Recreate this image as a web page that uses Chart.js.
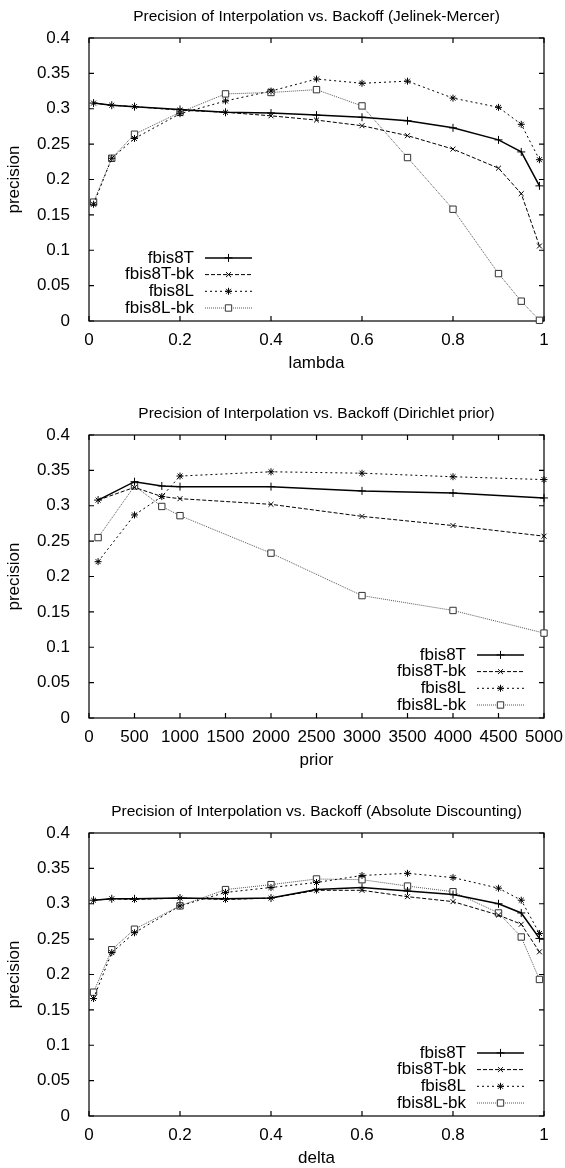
<!DOCTYPE html>
<html>
<head>
<meta charset="utf-8">
<script src="https://cdn.jsdelivr.net/npm/chart.js@4.4.1/dist/chart.umd.min.js"></script>
<style>
  html, body { margin: 0; padding: 0; background: #fff; overflow: hidden; }
  #wrap { position: relative; width: 565px; height: 1168px; }
  canvas { position: absolute; left: 0; }
</style>
</head>
<body>
<div id="wrap">
  <canvas id="chart1" width="565" height="375" style="top:0px"></canvas>
  <canvas id="chart2" width="565" height="375" style="top:397px"></canvas>
  <canvas id="chart3" width="565" height="375" style="top:795px"></canvas>
</div>
<script>
// series names
const seriesNames = ['fbis8T', 'fbis8T-bk', 'fbis8L', 'fbis8L-bk'];

// y axis ticks (shared)
const precisionTicks = [0, 0.05, 0.1, 0.15, 0.2, 0.25, 0.3, 0.35, 0.4];

// Jelinek-Mercer
const lambdaX = [0.01, 0.05, 0.1, 0.2, 0.3, 0.4, 0.5, 0.6, 0.7, 0.8, 0.9, 0.95, 0.99];
const lambdaTicks = [0, 0.2, 0.4, 0.6, 0.8, 1];
const jmT   = [0.308, 0.305, 0.303, 0.299, 0.295, 0.294, 0.291, 0.288, 0.283, 0.273, 0.256, 0.239, 0.191];
const jmTbk = [0.308, 0.305, 0.303, 0.298, 0.295, 0.290, 0.284, 0.276, 0.262, 0.243, 0.216, 0.180, 0.106];
const jmL   = [0.165, 0.230, 0.258, 0.293, 0.311, 0.325, 0.342, 0.336, 0.339, 0.315, 0.302, 0.278, 0.228];
const jmLbk = [0.168, 0.230, 0.264, 0.295, 0.321, 0.323, 0.327, 0.304, 0.231, 0.158, 0.067, 0.028, 0.001];

// Dirichlet prior
const priorX = [100, 500, 800, 1000, 2000, 3000, 4000, 5000];
const priorTicks = [0, 500, 1000, 1500, 2000, 2500, 3000, 3500, 4000, 4500, 5000];
const dirT   = [0.308, 0.334, 0.328, 0.327, 0.327, 0.321, 0.318, 0.311];
const dirTbk = [0.308, 0.326, 0.313, 0.310, 0.302, 0.285, 0.272, 0.257];
const dirL   = [0.221, 0.287, 0.313, 0.342, 0.348, 0.346, 0.341, 0.337];
const dirLbk = [0.255, 0.328, 0.299, 0.286, 0.233, 0.173, 0.152, 0.120];

// Absolute discounting
const deltaX = [0.01, 0.05, 0.1, 0.2, 0.3, 0.4, 0.5, 0.6, 0.7, 0.8, 0.9, 0.95, 0.99];
const deltaTicks = [0, 0.2, 0.4, 0.6, 0.8, 1];
const adT   = [0.305, 0.307, 0.307, 0.308, 0.307, 0.308, 0.320, 0.323, 0.318, 0.313, 0.300, 0.287, 0.251];
const adTbk = [0.305, 0.307, 0.306, 0.308, 0.306, 0.308, 0.319, 0.319, 0.310, 0.303, 0.284, 0.271, 0.232];
const adL   = [0.166, 0.231, 0.259, 0.297, 0.316, 0.323, 0.330, 0.340, 0.343, 0.337, 0.322, 0.305, 0.258];
const adLbk = [0.175, 0.235, 0.264, 0.297, 0.320, 0.327, 0.335, 0.334, 0.325, 0.317, 0.287, 0.253, 0.193];

Chart.defaults.font.family = '"Liberation Sans", Arial, Helvetica, sans-serif';
Chart.defaults.color = '#000';

// line/point look for each series (gnuplot style)
const styles = [
  { borderColor: '#000', borderWidth: 1.5, borderDash: [], pointStyle: 'cross', pointRadius: 4, pointBorderColor: '#000', pointBackgroundColor: '#000' },
  { borderColor: '#000', borderWidth: 1, borderDash: [4, 2], pointStyle: 'crossRot', pointRadius: 3.5, pointBorderColor: '#000', pointBackgroundColor: '#000' },
  { borderColor: '#000', borderWidth: 1, borderDash: [2, 3], pointStyle: 'star', pointRadius: 3.5, pointBorderColor: '#000', pointBackgroundColor: '#000' },
  { borderColor: '#555', borderWidth: 1, borderDash: [1, 1], pointStyle: 'rect', pointRadius: 4.5, pointBorderColor: '#333', pointBackgroundColor: '#fff' }
];

// border box with inward ticks on all four sides
const gnuFrame = {
  id: 'gnuFrame',
  beforeDatasetsDraw(chart) {
    const { ctx, chartArea: a, scales } = chart;
    const len = 5;
    ctx.save();
    ctx.strokeStyle = '#000';
    ctx.lineWidth = 1.2;
    ctx.strokeRect(a.left, a.top, a.right - a.left, a.bottom - a.top);
    ctx.beginPath();
    scales.x.ticks.forEach(t => {
      const px = scales.x.getPixelForValue(t.value);
      ctx.moveTo(px, a.bottom); ctx.lineTo(px, a.bottom - len);
      ctx.moveTo(px, a.top); ctx.lineTo(px, a.top + len);
    });
    scales.y.ticks.forEach(t => {
      const py = scales.y.getPixelForValue(t.value);
      ctx.moveTo(a.left, py); ctx.lineTo(a.left + len, py);
      ctx.moveTo(a.right, py); ctx.lineTo(a.right - len, py);
    });
    ctx.stroke();
    ctx.restore();
  }
};

// key inside the plot: text right-aligned, then line sample with marker
const gnuLegend = {
  id: 'gnuLegend',
  afterDatasetsDraw(chart, args, opts) {
    const { ctx, chartArea: a } = chart;
    const textRight = opts.side === 'left' ? a.left + 105 : a.right - 78;
    const x1 = textRight + 11, x2 = textRight + 58;
    const sets = chart.data.datasets;
    sets.forEach((ds, i) => {
      const y = a.bottom - 13 - (sets.length - 1 - i) * 16.7;
      ctx.save();
      ctx.font = '17px "Liberation Sans", Arial, sans-serif';
      ctx.fillStyle = '#000';
      ctx.textAlign = 'right';
      ctx.textBaseline = 'middle';
      ctx.fillText(ds.label, textRight, y);
      ctx.strokeStyle = ds.borderColor;
      ctx.lineWidth = ds.borderWidth;
      ctx.setLineDash(ds.borderDash);
      ctx.beginPath();
      ctx.moveTo(x1, y); ctx.lineTo(x2, y);
      ctx.stroke();
      ctx.setLineDash([]);
      ctx.strokeStyle = ds.pointBorderColor;
      ctx.fillStyle = ds.pointBackgroundColor;
      ctx.lineWidth = 1;
      Chart.helpers.drawPoint(ctx, { pointStyle: ds.pointStyle, radius: ds.pointRadius, rotation: 0, borderWidth: 1 }, (x1 + x2) / 2, y);
      ctx.restore();
    });
  }
};

function fmt(v) {
  return String(+Number(v).toFixed(2));
}

function makeChart(id, title, xTitle, xs, xTicks, ys, keySide) {
  const ctx = document.getElementById(id).getContext('2d');
  return new Chart(ctx, {
    type: 'line',
    data: {
      datasets: ys.map((arr, i) => Object.assign({
        label: seriesNames[i],
        data: xs.map((x, j) => ({ x: x, y: arr[j] })),
        pointBorderWidth: 1,
        pointHoverRadius: 0,
        fill: false,
        tension: 0,
        clip: false
      }, styles[i]))
    },
    options: {
      responsive: false,
      animation: false,
      events: [],
      devicePixelRatio: 1,
      layout: { padding: { left: 0, right: 21, top: 0, bottom: 0 } },
      plugins: {
        legend: { display: false },
        tooltip: { enabled: false },
        title: {
          display: true,
          text: title,
          fullSize: false,
          color: '#000',
          font: { size: 15.5, weight: 'normal' },
          padding: { top: 7, bottom: 12.4 }
        },
        gnuLegend: { side: keySide }
      },
      scales: {
        x: {
          type: 'linear',
          min: xTicks[0],
          max: xTicks[xTicks.length - 1],
          afterBuildTicks: s => { s.ticks = xTicks.map(v => ({ value: v })); },
          afterFit: s => { s.height = 54; },
          grid: { display: false },
          border: { display: false },
          ticks: { font: { size: 17 }, padding: 1, maxRotation: 0, autoSkip: false, callback: v => fmt(v) },
          title: { display: true, text: xTitle, font: { size: 17 }, padding: { top: 0, bottom: 1 } }
        },
        y: {
          type: 'linear',
          min: 0,
          max: 0.4,
          afterBuildTicks: s => { s.ticks = precisionTicks.map(v => ({ value: v })); },
          afterFit: s => { s.width = 89; },
          grid: { display: false },
          border: { display: false },
          ticks: { font: { size: 17 }, padding: 11, callback: v => fmt(v) },
          title: { display: true, text: 'precision', font: { size: 17 }, padding: { top: 4, bottom: 0 } }
        }
      }
    },
    plugins: [gnuFrame, gnuLegend]
  });
}

makeChart('chart1', 'Precision of Interpolation vs. Backoff (Jelinek-Mercer)', 'lambda',
  lambdaX, lambdaTicks, [jmT, jmTbk, jmL, jmLbk], 'left');
makeChart('chart2', 'Precision of Interpolation vs. Backoff (Dirichlet prior)', 'prior',
  priorX, priorTicks, [dirT, dirTbk, dirL, dirLbk], 'right');
makeChart('chart3', 'Precision of Interpolation vs. Backoff (Absolute Discounting)', 'delta',
  deltaX, deltaTicks, [adT, adTbk, adL, adLbk], 'right');
</script>
</body>
</html>
